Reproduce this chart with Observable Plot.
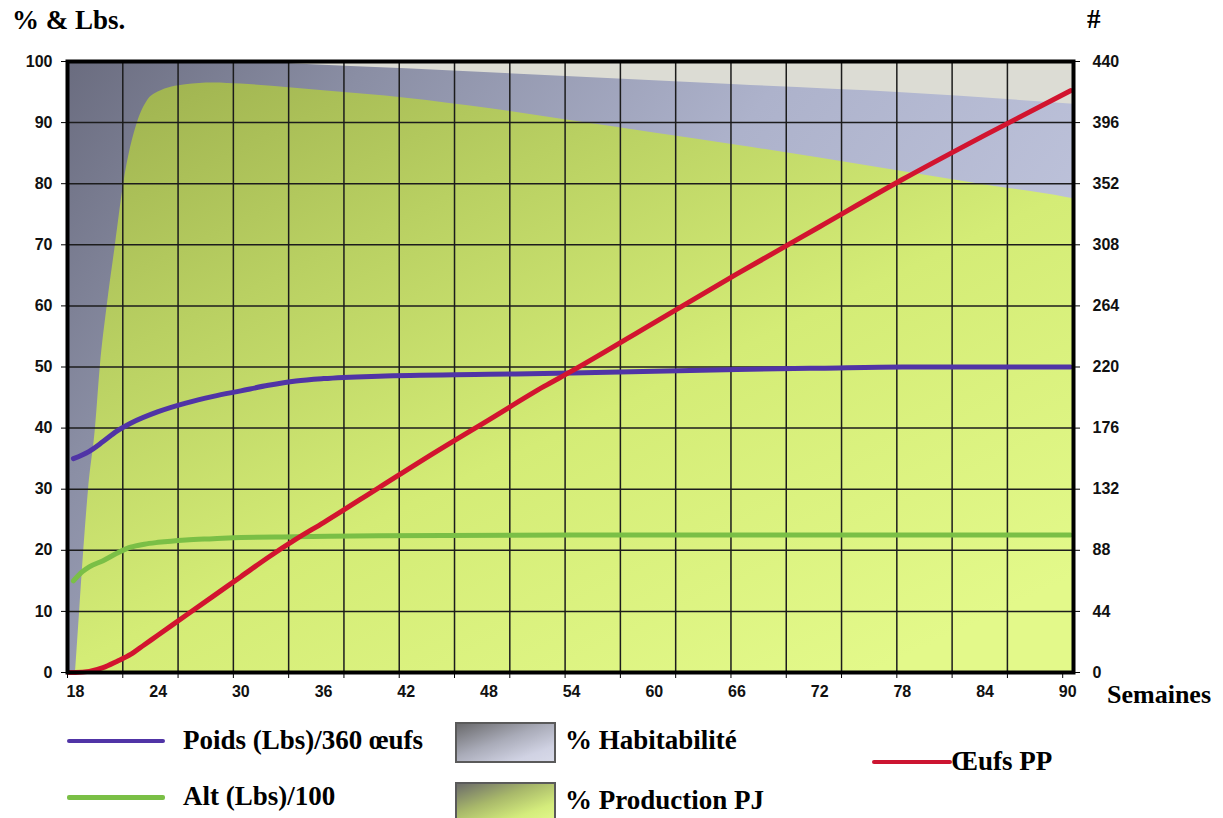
<!DOCTYPE html>
<html>
<head>
<meta charset="utf-8">
<script src="https://cdn.jsdelivr.net/npm/d3@7"></script>
<script src="https://cdn.jsdelivr.net/npm/@observablehq/plot@0.6"></script>
<style>
  body { margin: 0; background: #fff; }
  #wrap { position: relative; width: 1223px; height: 818px; overflow: hidden; }
  #chart { position: absolute; left: 0; top: 0; }
  .t { position: absolute; font-family: "Liberation Serif", "Times New Roman", serif; font-weight: bold; font-size: 27px; line-height: 1; white-space: nowrap; color: #000; }
  .ln { position: absolute; border-radius: 2px; }
  .box { position: absolute; box-sizing: border-box; border: 2px solid #5a5a5a; }
</style>
</head>
<body>
<div id="wrap">
  <div id="chart"></div>
  <div class="t" style="left:12px;top:7px;">% &amp; Lbs.</div>
  <div class="t" style="left:1087px;top:6px;">#</div>
  <div class="t" style="left:1107px;top:682px;font-size:26px;">Semaines</div>

  <div class="ln" style="left:67px;top:739px;width:98px;height:4px;background:#5034a6;"></div>
  <div class="t" style="left:183px;top:727px;">Poids (Lbs)/360 œufs</div>
  <div class="ln" style="left:67px;top:795px;width:98px;height:5px;background:#7abf46;"></div>
  <div class="t" style="left:183px;top:783px;">Alt (Lbs)/100</div>

  <div class="box" style="left:455px;top:722px;width:101px;height:41px;background:linear-gradient(160deg,#6a6a6c 0%,#a9abb8 45%,#d0d2e3 80%,#d8dae9 100%);"></div>
  <div class="t" style="left:565px;top:727px;">% Habitabilité</div>
  <div class="box" style="left:455px;top:782px;width:101px;height:42px;background:linear-gradient(160deg,#6c6c6a 0%,#a8b86a 40%,#d4ec7c 75%,#e3f98c 100%);"></div>
  <div class="t" style="left:565px;top:787px;">% Production PJ</div>

  <div class="ln" style="left:872px;top:760px;width:80px;height:4px;background:#cc1531;"></div>
  <div class="t" style="left:951px;top:748px;">Œufs PP</div>
</div>
<script>
// ---- Data ----
// x tick labels (weeks) and axis ticks
const xTickLabels = [18, 24, 30, 36, 42, 48, 54, 60, 66, 72, 78, 84, 90];
const yLeftTicks = [0, 10, 20, 30, 40, 50, 60, 70, 80, 90, 100];
const yRightTicks = [0, 44, 88, 132, 176, 220, 264, 308, 352, 396, 440];

// % Habitabilité (upper boundary of the blue-grey area)
const habWeeks  = [17.42, 30, 34, 42, 54, 66, 78, 90.42];
const habValues = [100, 100, 99.6, 98.8, 97.5, 96.2, 94.9, 93];

// % Production PJ (green area)
const prodWeeks  = [18, 18.3, 18.6, 18.95, 19.45, 19.8, 20.3, 20.9, 21.5, 22.5, 23.2, 24, 26, 28, 30, 36, 42, 48, 54, 60, 66, 72, 78, 84, 90, 90.42];
const prodValues = [0, 10, 20, 30, 40, 50, 60, 70, 80, 90, 93.5, 95, 96.2, 96.5, 96.3, 95.2, 94, 92.3, 90.3, 88.3, 86.3, 84.2, 82, 79.8, 77.7, 77.5];

// Poids (Lbs)/360 œufs (purple line, left axis)
const poidsWeeks  = [17.85, 19, 20, 21, 22, 24, 26, 28, 30, 32, 34, 36, 40, 48, 54, 60, 66, 72, 78, 84, 90.2];
const poidsValues = [35, 36.2, 37.8, 39.5, 40.8, 42.7, 44.1, 45.2, 46.1, 47, 47.7, 48.1, 48.5, 48.8, 49, 49.3, 49.6, 49.8, 50, 50, 50];

// Alt (Lbs)/100 (green line, left axis)
const altWeeks  = [17.85, 18.5, 19, 20, 21, 22, 23, 24, 26, 28, 30, 34, 40, 54, 90.2];
const altValues = [15, 16.5, 17.3, 18.3, 19.5, 20.5, 21, 21.3, 21.7, 21.9, 22.1, 22.2, 22.4, 22.5, 22.5];

// Œufs PP (red line, right axis #)
const oeufsWeeks  = [17.5, 18, 19, 20, 21, 22, 23, 24, 26, 28, 30, 32, 34, 36, 40, 44, 48, 52, 54, 60, 66, 72, 78, 84, 90.2];
const oeufsValues = [0, 0, 0.8, 3.5, 8, 13, 20, 27, 41, 55, 69, 83, 96, 108, 133, 158, 182, 206, 217, 252, 287, 321, 355, 387, 419];

// ---- Build tables ----
const zip = (ws, vs) => ws.map((w, i) => ({w, v: vs[i]}));
const hab = zip(habWeeks, habValues);
const prod = zip(prodWeeks, prodValues);
const poids = zip(poidsWeeks, poidsValues);
const alt = zip(altWeeks, altValues);
const oeufs = zip(oeufsWeeks, oeufsValues);
const rightRatio = yRightTicks[yRightTicks.length - 1] / yLeftTicks[yLeftTicks.length - 1];

// grid: 18 equal columns starting at the left edge of the frame
const xMin = 17.42, xMax = 90.42;
const gridX = d3.range(1, 18).map(i => xMin + i * 4.012);
const gridTicks = d3.range(0, 19).map(i => xMin + i * 4.012);

const axisStyle = {fontSize: 16, fontWeight: "bold", fontFamily: '"Liberation Sans", Arial, sans-serif'};

const plot = Plot.plot({
  width: 1223,
  height: 712,
  marginLeft: 67,
  marginRight: 150,
  marginTop: 61,
  marginBottom: 40,
  x: {domain: [xMin, xMax]},
  y: {domain: [0, 100]},
  style: {fontFamily: '"Liberation Sans", Arial, sans-serif', fontSize: "16px", fontWeight: "bold", color: "#111", background: "transparent", overflow: "visible"},
  marks: [
    Plot.frame({fill: "#dcdcd4", stroke: null}),
    Plot.areaY(hab, {x: "w", y: "v", fill: "url(#gHab)", curve: "monotone-x"}),
    Plot.areaY(prod, {x: "w", y: "v", fill: "url(#gProd)", curve: "monotone-x"}),
    Plot.ruleY(yLeftTicks.slice(1, -1), {stroke: "#1c1c1c", strokeWidth: 1.5}),
    Plot.ruleX(gridX, {stroke: "#1c1c1c", strokeWidth: 1.5}),
    Plot.line(alt, {x: "w", y: "v", stroke: "#7abf46", strokeWidth: 5, curve: "monotone-x"}),
    Plot.line(poids, {x: "w", y: "v", stroke: "#5034a6", strokeWidth: 5, curve: "monotone-x"}),
    Plot.line(oeufs, {x: "w", y: d => d.v / rightRatio, stroke: "#d2142f", strokeWidth: 5, curve: "monotone-x"}),
    Plot.frame({stroke: "#000", strokeWidth: 4}),
    Plot.axisY(yLeftTicks, {anchor: "left", tickSize: 6, tickPadding: 9, label: null, stroke: "#000", ...axisStyle}),
    Plot.axisY(yLeftTicks, {anchor: "right", tickSize: 6, tickPadding: 13, label: null, stroke: "#000", tickFormat: d => String(Math.round(d * rightRatio)), ...axisStyle}),
    Plot.axisX(gridTicks, {anchor: "bottom", tickSize: 6, tickFormat: () => "", label: null, stroke: "#000"}),
    Plot.axisX(xTickLabels, {anchor: "bottom", tickSize: 0, tickPadding: 13, label: null, ...axisStyle})
  ]
});

// gradients
const svg = d3.select(plot);
const defs = svg.insert("defs", ":first-child");
const gh = defs.append("linearGradient").attr("id", "gHab").attr("x1", 0).attr("y1", 0).attr("x2", 1).attr("y2", 0.45);
[[0, "#6a6c7f"], [0.25, "#8a8ea4"], [0.6, "#adb2cb"], [1, "#c0c5dd"]].forEach(([o, c]) => gh.append("stop").attr("offset", o).attr("stop-color", c));
const gp = defs.append("linearGradient").attr("id", "gProd").attr("x1", 0).attr("y1", 0).attr("x2", 0.8).attr("y2", 1);
[[0, "#9db04e"], [0.3, "#b9d062"], [0.6, "#d4ec76"], [1, "#e3f98a"]].forEach(([o, c]) => gp.append("stop").attr("offset", o).attr("stop-color", c));

document.getElementById("chart").appendChild(plot);
</script>
</body>
</html>
